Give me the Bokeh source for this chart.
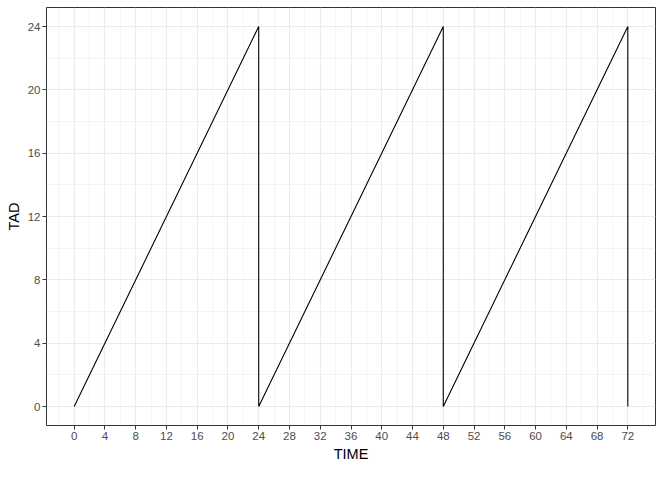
from bokeh.plotting import figure
from bokeh.models import FixedTicker, Range1d
from bokeh.embed import file_html
from bokeh.resources import INLINE

time = [0, 24, 24, 48, 48, 72, 72]
tad = [0, 24, 0, 24, 0, 24, 0]

x_ticks = list(range(0, 73, 4))
x_minor = list(range(-2, 75, 4))
y_ticks = list(range(0, 25, 4))
y_minor = list(range(2, 25, 4))

p = figure(width=656, height=464, output_backend="svg", toolbar_location=None,
           x_range=Range1d(-3.6, 75.6), y_range=Range1d(-1.2, 25.2),
           min_border_left=46, min_border_right=1, min_border_top=7, min_border_bottom=36)

p.line(time, tad, line_color="black", line_width=1.1)

p.xaxis.ticker = FixedTicker(ticks=x_ticks, minor_ticks=x_minor)
p.yaxis.ticker = FixedTicker(ticks=y_ticks, minor_ticks=y_minor)
p.xaxis.axis_label = "TIME"
p.yaxis.axis_label = "TAD"

for ax in (p.xaxis, p.yaxis):
    ax.axis_line_color = None
    ax.major_tick_line_color = "#333333"
    ax.major_tick_in = 0
    ax.major_tick_out = 4
    ax.minor_tick_line_color = None
    ax.major_label_text_font = "Liberation Sans"
    ax.major_label_text_font_size = "11.5px"
    ax.major_label_text_color = "#4D4D4D"
    ax.axis_label_text_font = "Liberation Sans"
    ax.axis_label_text_font_size = "14.5px"
    ax.axis_label_text_font_style = "normal"
    ax.axis_label_text_color = "black"
    ax.axis_label_standoff = 3
    ax.major_label_standoff = 2

for g in (p.xgrid, p.ygrid):
    g.grid_line_color = "#EBEBEB"
    g.grid_line_width = 1.1
    g.minor_grid_line_color = "#EBEBEB"
    g.minor_grid_line_width = 0.55

p.outline_line_color = "#333333"
p.outline_line_width = 1
p.background_fill_color = "white"
p.border_fill_color = "white"

open("out.html", "w").write(file_html(p, INLINE))
